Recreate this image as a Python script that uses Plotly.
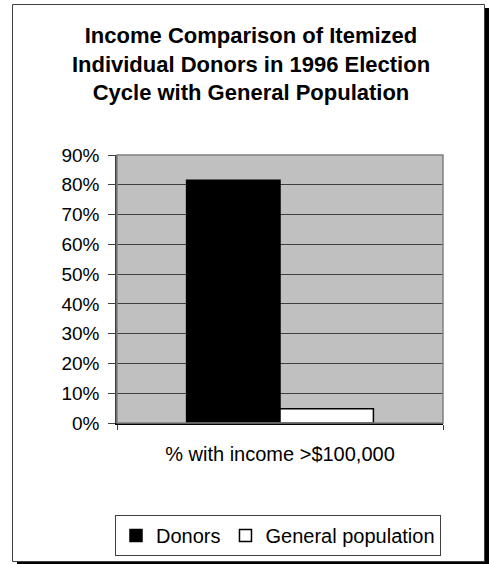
import plotly.graph_objects as go

# Data
category = ["% with income >$100,000"]
series_names = ["Donors", "General population"]
donors = [0.815]
general_population = [0.048]
y_ticks = [0.0, 0.1, 0.2, 0.3, 0.4, 0.5, 0.6, 0.7, 0.8, 0.9]

W, H = 490, 564
L, R, T, B = 117, 47, 155, 141
PW, PH = W - L - R, H - T - B


def px_x(px):
    return (px - L) / PW


def px_y(py):
    return (H - B - py) / PH


FONT = "Liberation Sans, Arial, sans-serif"

fig = go.Figure()
fig.add_trace(go.Bar(
    x=category, y=donors, name=series_names[0],
    marker=dict(color="black", line=dict(color="black", width=1.5)),
))
fig.add_trace(go.Bar(
    x=category, y=general_population, name=series_names[1],
    marker=dict(color="white", line=dict(color="black", width=1.5)),
))

shapes = [
    # drop shadow of the chart frame
    dict(type="rect", xref="paper", yref="paper",
         x0=px_x(17), x1=px_x(489), y0=px_y(565), y1=px_y(8),
         fillcolor="black", line=dict(width=0), layer="below"),
    # chart frame
    dict(type="rect", xref="paper", yref="paper",
         x0=px_x(12.5), x1=px_x(484.5), y0=px_y(561.5), y1=px_y(4.5),
         fillcolor="white", line=dict(color="#404040", width=1), layer="below"),
    # plot area background
    dict(type="rect", xref="paper", yref="paper",
         x0=0, x1=1, y0=0, y1=1,
         fillcolor="#C0C0C0", line=dict(width=0), layer="below"),
    # plot area border
    dict(type="rect", xref="paper", yref="paper",
         x0=0, x1=1, y0=0, y1=1,
         line=dict(color="#808080", width=1.5), layer="above"),
]

fig.update_layout(
    width=W, height=H,
    margin=dict(l=L, r=R, t=T, b=B),
    paper_bgcolor="white",
    plot_bgcolor="rgba(0,0,0,0)",
    barmode="group",
    bargap=0.427,
    bargroupgap=0,
    font=dict(family=FONT, color="black"),
    title=dict(
        text="<b>Income Comparison of Itemized<br>Individual Donors in 1996 Election<br>Cycle with General Population</b>",
        font=dict(size=22, family=FONT, color="black"),
        xref="container", yref="container",
        x=251 / W, xanchor="center",
        y=1 - 43 / H, yanchor="middle",
    ),
    legend=dict(
        orientation="h",
        xref="container", yref="container",
        x=115 / W, xanchor="left",
        y=1 - 515 / H, yanchor="top",
        bgcolor="white",
        bordercolor="#404040", borderwidth=1,
        font=dict(size=20, family=FONT, color="black"),
    ),
    shapes=shapes,
    xaxis=dict(
        showline=True, linecolor="black", linewidth=1.5,
        ticks="outside", tickson="boundaries", ticklen=5,
        tickcolor="#404040", tickwidth=1,
        tickfont=dict(size=20, family=FONT, color="black"),
        ticklabelstandoff=12,
        showgrid=False,
    ),
    yaxis=dict(
        range=[0, 0.9],
        tickvals=y_ticks, tickformat=".0%",
        showline=True, linecolor="#404040", linewidth=1.5,
        ticks="outside", ticklen=7, tickcolor="#404040", tickwidth=1,
        tickfont=dict(size=19, family=FONT, color="black"),
        ticklabelstandoff=5,
        showgrid=True, gridcolor="#404040", gridwidth=1,
        zeroline=False,
    ),
)

fig.write_html("out.html")
